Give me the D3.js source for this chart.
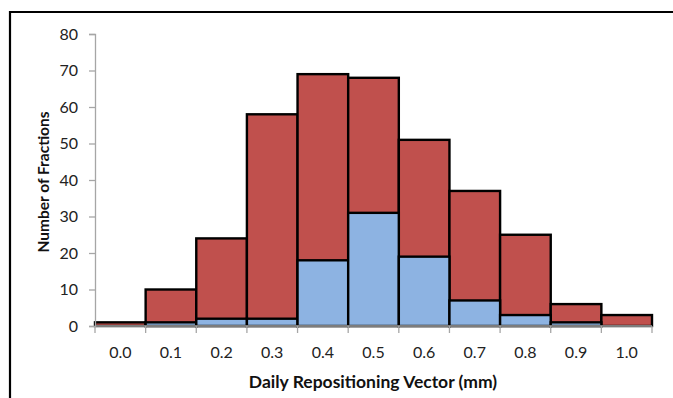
<!DOCTYPE html>
<html><head><meta charset="utf-8">
<script src="https://cdn.jsdelivr.net/npm/d3@7"></script>
<style>html,body{margin:0;padding:0;background:#fff;}svg{display:block;}</style>
</head><body>
<script>
const categories = ["0.0","0.1","0.2","0.3","0.4","0.5","0.6","0.7","0.8","0.9","1.0"];
const totalFractions = [1,10,24,58,69,68,51,37,25,6,3];
const subsetFractions = [0,1,2,2,18,31,19,7,3,1,0];
const yTicks = [0,10,20,30,40,50,60,70,80];

const W = 673, H = 398;
const svg = d3.select("body").append("svg").attr("width", W).attr("height", H);
const font = "Lato, 'Open Sans', sans-serif";

// outer frame (left + top visible)
svg.append("path").attr("d", `M10,${H} L10,12 L${W},12`).attr("fill","none").attr("stroke","#000").attr("stroke-width",2.2);

const x = d3.scaleBand().domain(categories).range([95, 652]).padding(0);
const y = d3.scaleLinear().domain([0, 80]).range([326, 34]);

// bars: totals (red) then subset (blue) in front
const g = svg.append("g");
g.selectAll("rect.tot").data(categories).join("rect")
  .attr("x", d => x(d)).attr("width", x.bandwidth())
  .attr("y", (d,i) => y(totalFractions[i])).attr("height", (d,i) => y(0) - y(totalFractions[i]))
  .attr("fill", "#C0504D").attr("stroke", "#000").attr("stroke-width", 2.4);
g.selectAll("rect.sub").data(categories).join("rect")
  .attr("x", d => x(d)).attr("width", x.bandwidth())
  .attr("y", (d,i) => y(subsetFractions[i])).attr("height", (d,i) => y(0) - y(subsetFractions[i]))
  .attr("fill", "#8DB3E2").attr("stroke", "#000").attr("stroke-width", (d,i)=> subsetFractions[i] > 0 ? 2.4 : 0);

// y axis
const yAxis = svg.append("g").attr("transform", "translate(95,0)")
  .call(d3.axisLeft(y).tickValues(yTicks).tickSize(6).tickPadding(11));
yAxis.select(".domain").attr("stroke", "#a6a6a6").attr("stroke-width", 1.3);
yAxis.selectAll(".tick line").attr("stroke", "#a6a6a6").attr("stroke-width", 1.3);
yAxis.selectAll("text").attr("font-family", font).attr("font-size", 16).attr("fill", "#222");

// x axis
const boundaries = categories.map(c => x(c)).concat([x(categories[categories.length-1]) + x.bandwidth()]);
const xg = svg.append("g");
xg.append("line").attr("x1", 95).attr("x2", 652).attr("y1", y(0)).attr("y2", y(0))
  .attr("stroke", "#a6a6a6").attr("stroke-width", 1.3);
xg.selectAll("line.t").data(boundaries).join("line")
  .attr("x1", d => d).attr("x2", d => d).attr("y1", y(0)).attr("y2", y(0) + 7)
  .attr("stroke", "#a6a6a6").attr("stroke-width", 1.3);
xg.selectAll("text").data(categories).join("text")
  .attr("x", d => x(d) + x.bandwidth()/2).attr("y", 358)
  .attr("text-anchor", "middle").attr("font-family", font).attr("font-size", 16).attr("fill", "#222")
  .text(d => d);

// axis titles
svg.append("text").attr("x", 373).attr("y", 388).attr("text-anchor","middle")
  .attr("font-family", font).attr("font-weight","bold").attr("font-size", 17.5).attr("fill","#111")
  .text("Daily Repositioning Vector (mm)");
svg.append("text").attr("transform", "translate(49,182) rotate(-90)").attr("text-anchor","middle")
  .attr("font-family", font).attr("font-weight","bold").attr("font-size", 15.5).attr("fill","#111")
  .text("Number of Fractions");
</script>
</body></html>
